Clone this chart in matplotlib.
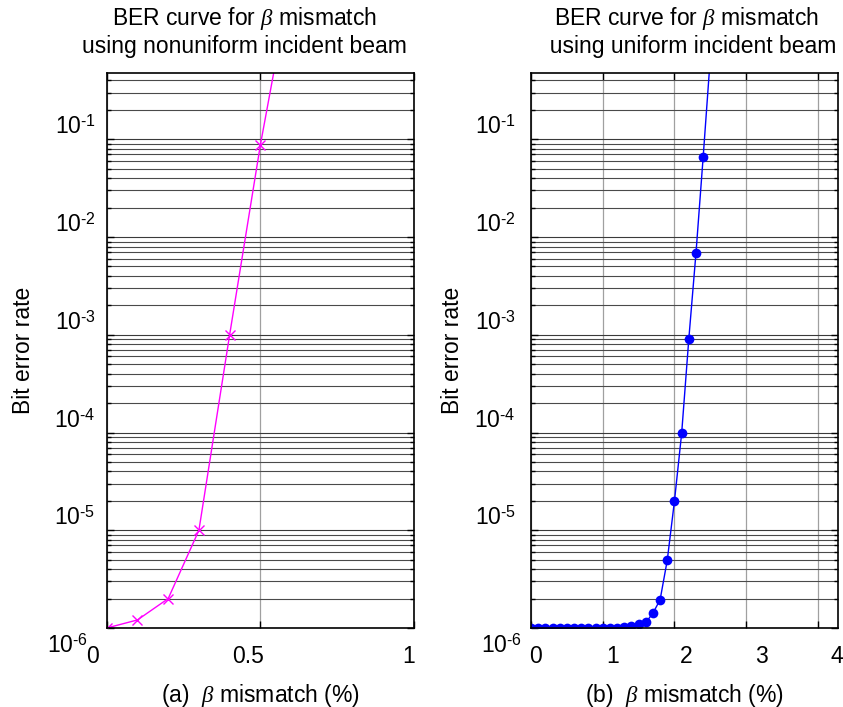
import matplotlib
matplotlib.use("Agg")
import matplotlib.pyplot as plt
from matplotlib.ticker import LogLocator, FixedLocator, NullFormatter
from matplotlib.transforms import ScaledTranslation

plt.rcParams['font.family'] = ['Liberation Sans', 'DejaVu Sans']
plt.rcParams['mathtext.fontset'] = 'custom'
plt.rcParams['mathtext.rm'] = 'Liberation Sans'
plt.rcParams['mathtext.it'] = 'Liberation Serif:italic'
plt.rcParams['mathtext.bf'] = 'Liberation Sans:bold'

# ---- data ----
x_nonuniform = [0.0, 0.1, 0.2, 0.3, 0.4, 0.5, 0.6]
ber_nonuniform = [1.0e-6, 1.21e-6, 2.0e-6, 1.0e-5, 1.0e-3, 0.0875, 4.4]

x_uniform = [0.0, 0.1, 0.2, 0.3, 0.4, 0.5, 0.6, 0.7, 0.8, 0.9, 1.0, 1.1, 1.2,
             1.3, 1.4, 1.5, 1.6, 1.7, 1.8, 1.9, 2.0, 2.1, 2.2, 2.3, 2.4, 2.5]
ber_uniform = [1.0e-6, 1.0e-6, 1.0e-6, 1.0e-6, 1.0e-6, 1.0e-6, 1.0e-6, 1.0e-6,
               1.0e-6, 1.0e-6, 1.0e-6, 1.0e-6, 1.01e-6, 1.03e-6, 1.04e-6,
               1.09e-6, 1.14e-6, 1.42e-6, 1.95e-6, 4.97e-6, 2.0e-5, 9.8e-5,
               9.1e-4, 6.9e-3, 0.066, 0.69]

titles = ["BER curve for $\\beta$ mismatch\nusing nonuniform incident beam",
          "BER curve for $\\beta$ mismatch\n  using uniform incident beam"]
xlabels = ["(a)  $\\beta$ mismatch (%)", "(b)  $\\beta$ mismatch (%)"]
ylabel = "Bit error rate"
xticks_a = [0, 0.5, 1]
xticklabels_a = ["0", "0.5", "1"]
xticks_b = [0, 1, 2, 3, 4]
xticklabels_b = ["0", "1", "2", "3", "4"]
yticks = [1e-6, 1e-5, 1e-4, 1e-3, 1e-2, 1e-1]
yticklabels = ["$10^{\\text{-6}}$", "$10^{\\text{-5}}$", "$10^{\\text{-4}}$",
               "$10^{\\text{-3}}$", "$10^{\\text{-2}}$", "$10^{\\text{-1}}$"]

# label nudges in pixels (mimic the exported layout of the original)
xlabel_shift_a = [-14, -12, -5]
xlabel_shift_b = [4, 10, 12, 15, 19]

FS = 16.5
fig = plt.figure(figsize=(8.43, 7.07), dpi=100)
axA = fig.add_axes([0.1266, 0.1117, 0.3645, 0.7854])
axB = fig.add_axes([0.6299, 0.1117, 0.3642, 0.7854])

axA.plot(x_nonuniform, ber_nonuniform, color='#ff00ff', lw=1.0, marker='x',
         markersize=7, markeredgewidth=1.0)
axB.plot(x_uniform, ber_uniform, color='#0000ff', lw=1.0, marker='o',
         markersize=7, markeredgewidth=0)


def nudge(artist, dx_px, dy_px):
    artist.set_transform(artist.get_transform() +
                         ScaledTranslation(dx_px / 100.0, dy_px / 100.0,
                                           fig.dpi_scale_trans))


setups = [(axA, (0, 1), xticks_a, xticklabels_a, -0.272, 0.447, 8, xlabel_shift_a, -8),
          (axB, (0, 4.28), xticks_b, xticklabels_b, -0.257, 0.507, 11, xlabel_shift_b, 6)]
for i, (ax, xl, xt, xtl, ylx, tx, ypad, xsh, y0dx) in enumerate(setups):
    ax.set_yscale('log')
    ax.set_xlim(*xl)
    ax.set_ylim(1e-6, 0.48)
    ax.set_xticks(xt)
    ax.set_xticklabels(xtl)
    ax.yaxis.set_major_locator(FixedLocator(yticks))
    ax.set_yticklabels(yticklabels)
    ax.yaxis.set_minor_locator(LogLocator(base=10, subs=range(2, 10), numticks=20))
    ax.yaxis.set_minor_formatter(NullFormatter())
    ax.grid(True, which='major', axis='y', color='#3a3a3a', lw=0.8)
    ax.grid(True, which='minor', axis='y', color='#4a4a4a', lw=0.8)
    ax.grid(True, which='major', axis='x', color='#a0a0a0', lw=0.9)
    ax.set_axisbelow(True)
    ax.tick_params(axis='both', which='major', direction='in', length=5,
                   width=1, top=True, right=True, labelsize=FS)
    ax.tick_params(axis='x', which='major', pad=12)
    ax.tick_params(axis='y', which='major', pad=ypad)
    ax.tick_params(axis='both', which='minor', direction='in', length=3,
                   width=1, top=True, right=True)
    for s in ax.spines.values():
        s.set_linewidth(1.2)
        s.set_color('black')
    ylabs = ax.get_yticklabels()
    for j, lab in enumerate(ylabs):
        lab.set_va('top' if j == 0 else 'bottom')
    nudge(ylabs[0], y0dx, -6)
    for lab, d in zip(ax.get_xticklabels(), xsh):
        nudge(lab, d, 0)
    ax.set_title(titles[i], fontsize=FS, pad=14, linespacing=1.2, x=tx)
    ax.set_xlabel(xlabels[i], fontsize=FS, labelpad=10)
    ax.set_ylabel(ylabel, fontsize=FS)
    ax.yaxis.set_label_coords(ylx, 0.5)
    ax.yaxis.label.set_va('center')

fig.savefig("out.png", dpi=100)
